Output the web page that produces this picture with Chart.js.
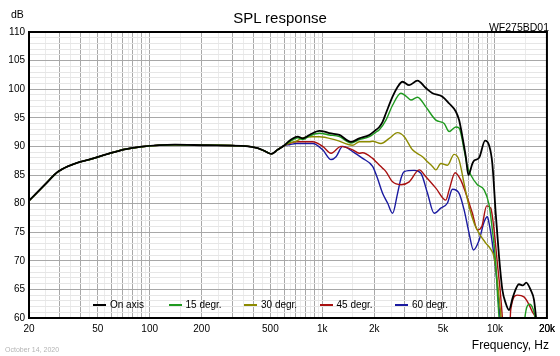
<!DOCTYPE html>
<html><head><meta charset="utf-8">
<script src="https://cdn.jsdelivr.net/npm/chart.js@4.4.0/dist/chart.umd.min.js"></script>
<style>
html,body{margin:0;padding:0;background:#fff;}
#wrap{position:relative;width:560px;height:356px;font-family:"Liberation Sans",Arial,sans-serif;overflow:hidden;}
#c{position:absolute;left:0;top:0;}
.t{position:absolute;white-space:nowrap;color:#000;}
#legend{position:absolute;left:93px;top:300px;height:10px;display:flex;font-size:10px;line-height:10px;}
.li{width:75.5px;position:relative;height:10px;}
.ls{position:absolute;left:0;top:4px;width:13px;height:2px;}
.lt{position:absolute;left:17px;top:0;white-space:nowrap;}
</style></head><body>
<div id="wrap">
<canvas id="c" width="560" height="356"></canvas>
<div class="t" style="left:0;width:560px;text-align:center;top:10px;font-size:15px;line-height:15px;">SPL response</div>
<div class="t" style="left:11px;top:9px;font-size:10.5px;line-height:10.5px;">dB</div>
<div class="t" style="right:11px;top:21.5px;font-size:10.5px;line-height:10.5px;">WF275BD01</div>
<div class="t" style="right:11px;top:339px;font-size:12px;line-height:12px;">Frequency, Hz</div>
<div class="t" style="left:5px;top:346px;font-size:7px;line-height:7px;color:#b4b4b4;">October 14, 2020</div>
<div id="legend"></div>
</div>
<script>
// ---- data ----
const seriesNames = ['On axis', '15 degr.', '30 degr.', '45 degr.', '60 degr.'];
const seriesColors = ['#000000', '#1f9a1f', '#8c8a00', '#a81010', '#1a1aa0'];

// common low-frequency part (all angles coincide)
const freqLow = [20, 24.7, 29.5, 36.9, 46, 57.4, 71.8, 89.6, 140, 216, 338, 422, 463, 506, 550, 604];
const splLow  = [80.5, 83.3, 85.6, 87.0, 87.8, 88.7, 89.5, 89.95, 90.3, 90.2, 90.1, 89.7, 89.2, 88.7, 89.4, 90.2];

const freqOnAxis = [645, 721, 770, 842, 962, 1028, 1099, 1256, 1466, 1638, 1872, 2046, 2138, 2234, 2336, 2552, 2728, 2916, 3186, 3558, 3980, 4346, 4966, 5428, 5932, 6198, 6476, 6778, 7016, 7400, 7570, 8092, 8766, 9242, 9656, 10100, 10560, 11040, 11540, 12060, 12710, 13770, 14530, 15180, 16100, 16820, 17340, 17980];
const splOnAxis  = [91.0, 91.7, 91.4, 92.0, 92.7, 92.6, 92.3, 92.0, 90.8, 91.4, 92.0, 92.9, 93.4, 94.3, 95.8, 98.7, 100.4, 101.3, 100.7, 101.5, 100.2, 99.3, 98.7, 97.5, 96.1, 94.6, 91.7, 88.2, 85.0, 87.0, 87.5, 88.0, 91.0, 90.2, 87.0, 78.3, 70.7, 64.9, 62.6, 61.4, 63.7, 65.9, 65.7, 66.2, 64.9, 63.2, 59.7, 55.0];

const freq15 = [645, 721, 770, 842, 962, 1099, 1256, 1466, 1638, 1872, 2046, 2138, 2336, 2552, 2854, 3050, 3260, 3558, 3980, 4546, 5078, 5428, 5932, 6198, 6626, 6924, 7244, 7910, 8648, 9242, 9656, 10100, 10370, 10600, 11000, 14400, 14900, 15886, 16600, 17208, 17980];
const spl15  = [90.8, 91.5, 91.2, 91.8, 92.3, 92.0, 91.7, 90.6, 91.2, 91.7, 92.5, 92.9, 94.6, 97.2, 99.3, 98.8, 98.1, 98.6, 96.9, 94.6, 94.0, 92.6, 93.4, 93.2, 89.4, 86.5, 85.0, 83.3, 82.4, 79.8, 75.4, 69.6, 63.5, 59.0, 45.0, 45.0, 60.0, 62.4, 61.6, 59.5, 52.0];

const freq30 = [645, 705, 770, 880, 962, 1201, 1498, 1638, 1872, 1956, 2186, 2442, 2728, 2982, 3330, 3804, 3980, 4346, 4546, 4858, 5306, 5800, 6198, 6626, 7082, 7570, 8092, 8846, 9456, 9878, 10560, 10900, 11400];
const spl30  = [90.6, 90.9, 91.5, 91.7, 91.7, 91.1, 90.2, 90.8, 90.8, 90.9, 90.5, 91.4, 92.4, 91.7, 89.4, 88.2, 87.6, 86.5, 85.9, 87.0, 86.7, 88.6, 87.6, 83.5, 79.5, 76.6, 74.8, 73.1, 72.0, 70.7, 63.7, 59.0, 45.0];

const freq45 = [645, 705, 880, 1005, 1124, 1284, 1498, 1638, 1712, 1956, 2046, 2234, 2336, 2552, 2854, 3186, 3640, 3980, 4546, 5194, 5428, 5878, 6342, 6778, 7400, 7910, 8388, 8950, 9456, 9878, 10322, 10800, 11138, 11600, 12000, 12338, 13468, 14728, 15386, 16444, 17208, 17980];
const spl45  = [90.5, 90.8, 90.8, 90.0, 88.8, 90.0, 89.4, 88.8, 88.9, 87.9, 87.3, 86.2, 85.6, 83.8, 83.3, 83.8, 85.9, 84.7, 82.7, 80.6, 82.4, 85.4, 84.1, 81.8, 78.3, 75.4, 76.0, 79.6, 79.2, 75.4, 69.6, 63.7, 58.0, 45.0, 50.0, 61.4, 64.0, 63.7, 62.9, 61.1, 59.5, 52.0];

const freq60 = [645, 705, 880, 1005, 1124, 1201, 1312, 1498, 1712, 1956, 2082, 2234, 2388, 2552, 2728, 2854, 2982, 3406, 3724, 4066, 4446, 4858, 5306, 5670, 6198, 6626, 7082, 7500, 8092, 8648, 9036, 9242, 9656, 10100, 10560, 10800, 11200];
const spl60  = [90.3, 90.5, 90.5, 89.4, 87.7, 88.2, 90.0, 89.1, 87.9, 86.5, 84.5, 81.8, 80.1, 78.3, 81.8, 84.4, 85.6, 85.8, 85.3, 81.8, 78.3, 79.2, 80.1, 82.5, 81.8, 78.9, 74.8, 71.9, 73.6, 76.8, 77.7, 76.6, 73.1, 68.4, 62.0, 58.0, 45.0];

// axis tick labels
const xTickValues = [20, 50, 100, 200, 500, 1000, 2000, 5000, 10000, 20000];
const xTickLabels = ['20', '50', '100', '200', '500', '1k', '2k', '5k', '10k', '20k'];
const yTickLabels = [60, 65, 70, 75, 80, 85, 90, 95, 100, 105, 110];

// ---- build ----
const freqSets = [freqOnAxis, freq15, freq30, freq45, freq60];
const splSets  = [splOnAxis, spl15, spl30, spl45, spl60];

function pts(fh, sh) {
  const f = freqLow.concat(fh), s = splLow.concat(sh);
  return f.map((v, i) => ({x: v, y: s[i]}));
}

const xGrid = [];
[10, 100, 1000, 10000].forEach(d => {
  for (let m = 1; m <= 9; m++) {
    [m * d, (m + 0.5) * d].forEach(v => { if (v >= 20 && v <= 20000) xGrid.push(v); });
  }
});
xGrid.push(20000);
const yGrid = [];
for (let v = 60; v <= 110; v++) yGrid.push(v);

function isMajorX(v) {
  const p = Math.pow(10, Math.floor(Math.log10(v) + 1e-9));
  const m = v / p;
  return Math.abs(m - Math.round(m)) < 1e-6;
}

const FONT = '"Liberation Sans", Arial, sans-serif';

const frame = {
  id: 'frame',
  afterDatasetsDraw(c) {
    const {ctx, chartArea: a} = c;
    ctx.save();
    ctx.strokeStyle = '#000';
    ctx.lineWidth = 2;
    ctx.strokeRect(a.left, a.top, a.right - a.left, a.bottom - a.top);
    ctx.restore();
  }
};

const chart = new Chart(document.getElementById('c'), {
  type: 'line',
  data: {
    datasets: seriesNames.map((n, i) => ({
      label: n,
      data: pts(freqSets[i], splSets[i]),
      borderColor: seriesColors[i],
      backgroundColor: seriesColors[i],
      borderWidth: i === 0 ? 1.8 : 1.4,
      pointRadius: 0,
      fill: false,
      cubicInterpolationMode: 'monotone',
      clip: 0
    }))
  },
  options: {
    responsive: false,
    animation: false,
    devicePixelRatio: 1,
    layout: {padding: {top: 32, right: 12, left: 0, bottom: 0}},
    plugins: {legend: {display: false}, title: {display: false}, tooltip: {enabled: false}},
    scales: {
      x: {
        type: 'logarithmic', min: 20, max: 20000,
        afterBuildTicks(s) { s.ticks = xGrid.map(v => ({value: v})); },
        afterFit(s) { s.height = 38; },
        ticks: {
          autoSkip: false, maxRotation: 0, minRotation: 0, padding: 5, color: '#000',
          font: {size: 10, family: FONT},
          callback(v) { const i = xTickValues.indexOf(v); return i >= 0 ? xTickLabels[i] : ''; }
        },
        grid: {
          drawTicks: false, lineWidth: 1,
          color(ctx) { return isMajorX(ctx.tick.value) ? '#a8a8a8' : '#ebebeb'; }
        },
        border: {display: true, color: '#000', width: 2}
      },
      y: {
        min: 60, max: 110,
        afterBuildTicks(s) { s.ticks = yGrid.map(v => ({value: v})); },
        afterFit(s) { s.width = 29; },
        ticks: {
          autoSkip: false, padding: 4, color: '#000',
          font: {size: 10, family: FONT},
          callback(v) { return yTickLabels.indexOf(v) >= 0 ? String(v) : ''; }
        },
        grid: {
          drawTicks: false, lineWidth: 1,
          color(ctx) { return yTickLabels.indexOf(ctx.tick.value) >= 0 ? '#a8a8a8' : '#e6e6e6'; }
        },
        border: {display: true, color: '#000', width: 2}
      }
    }
  },
  plugins: [frame]
});

// legend (inside plot, as in the reference)
const leg = document.getElementById('legend');
chart.data.datasets.forEach(ds => {
  const it = document.createElement('div'); it.className = 'li';
  const s = document.createElement('span'); s.className = 'ls'; s.style.background = ds.borderColor;
  const t = document.createElement('span'); t.className = 'lt'; t.textContent = ds.label;
  it.appendChild(s); it.appendChild(t); leg.appendChild(it);
});
</script>
</body></html>
